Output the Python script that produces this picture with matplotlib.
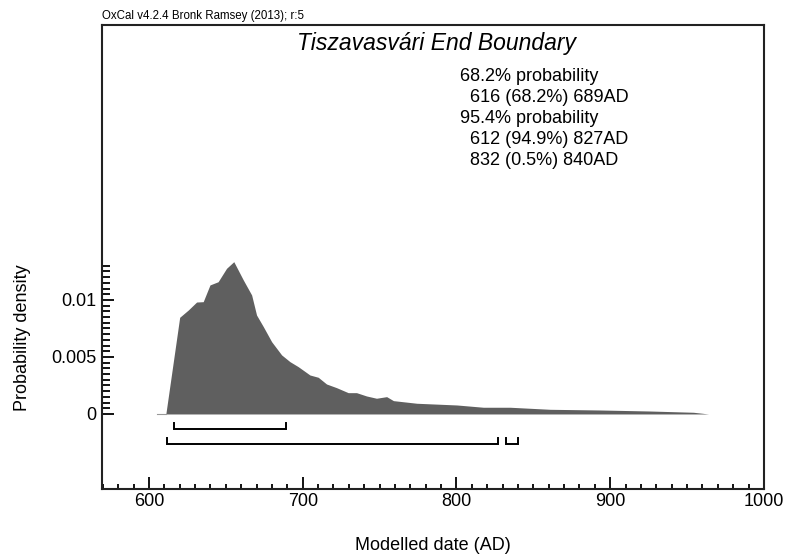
"""OxCal-style plot of the Tiszavasvári end boundary posterior."""

import matplotlib
matplotlib.use("Agg")
import matplotlib.pyplot as plt
from matplotlib.ticker import FixedLocator, FuncFormatter

plt.rcParams["font.family"] = ["Liberation Sans", "DejaVu Sans"]

# posterior density (year AD, probability density)
years = [611, 620, 625.6, 631, 635.3, 639.7, 645, 650.5, 655.2, 661.4, 666.8,
         670, 674.4, 679.8, 686.3, 691.7, 697.1, 704.7, 710.1, 715.5, 722,
         729.6, 735, 741.5, 748, 754.6, 759, 774.2, 800.2, 817.5, 834.9,
         860.9, 893.4, 926, 954.1, 964]
density = [0, 0.00848, 0.00912, 0.00982, 0.00985, 0.01132, 0.0116, 0.01278,
           0.01336, 0.01175, 0.01044, 0.00868, 0.00766, 0.00634, 0.00518,
           0.00459, 0.00415, 0.00342, 0.00322, 0.00263, 0.00231, 0.00187,
           0.00187, 0.00158, 0.00138, 0.00152, 0.00117, 0.00094, 0.00079,
           0.00059, 0.00059, 0.00041, 0.00035, 0.00026, 0.00015, 0]

range_68 = [(616, 689)]
range_95 = [(612, 827), (832, 840)]

title = "Tiszavasvári End Boundary"
summary = ["68.2% probability", "  616 (68.2%) 689AD", "95.4% probability",
           "  612 (94.9%) 827AD", "  832 (0.5%) 840AD"]

fig = plt.figure(figsize=(7.86, 5.57), dpi=100)
ax = fig.add_axes([0.1298, 0.1221, 0.8422, 0.833])

ax.plot([605, years[0]], [0, 0], color="#999999", lw=0.8)
ax.fill_between(years, 0, density, color="#5f5f5f", lw=0)

# HPD range brackets below the curve
def bracket(lo, hi, y, h=0.00055):
    ax.plot([lo, lo, hi, hi], [y + h, y, y, y + h], color="black", lw=1.4,
            solid_joinstyle="miter")

for lo, hi in range_68:
    bracket(lo, hi, -0.00135)
for lo, hi in range_95:
    bracket(lo, hi, -0.00265)

ax.set_xlim(569.5, 1000)
ax.set_ylim(-0.00658, 0.03412)

ax.xaxis.set_major_locator(FixedLocator([600, 700, 800, 900, 1000]))
ax.xaxis.set_minor_locator(FixedLocator(range(570, 1001, 10)))
ax.yaxis.set_major_locator(FixedLocator([0, 0.005, 0.01]))
ax.yaxis.set_minor_locator(FixedLocator([i * 0.0005 for i in range(0, 27)]))
ax.yaxis.set_major_formatter(FuncFormatter(lambda v, p: f"{v:g}"))

ax.tick_params(which="both", direction="in", width=1.3, labelsize=13)
ax.tick_params(axis="x", which="major", length=8.6, pad=3)
ax.tick_params(axis="x", which="minor", length=3.8)
ax.tick_params(axis="y", which="major", length=8.6, pad=4)
ax.tick_params(axis="y", which="minor", length=5.5)
ax.tick_params(top=False, right=False)

for s in ax.spines.values():
    s.set_linewidth(1.5)
    s.set_color("#222222")

ax.text(0.505, 0.961, title, transform=ax.transAxes, ha="center", va="center",
        fontsize=16.5, style="italic")
for i, line in enumerate(summary):
    ax.text(0.541, 0.889 - i * 0.0455, line, transform=ax.transAxes,
            ha="left", va="center", fontsize=13)

fig.text(0.1298, 0.971, "OxCal v4.2.4 Bronk Ramsey (2013); r:5", fontsize=8.3,
         ha="left", va="center")
fig.text(0.028, 0.393, "Probability density", rotation=90, ha="center",
         va="center", fontsize=13)
fig.text(0.551, 0.02, "Modelled date (AD)", ha="center", va="center",
         fontsize=13)

fig.savefig("out.png", dpi=100)
